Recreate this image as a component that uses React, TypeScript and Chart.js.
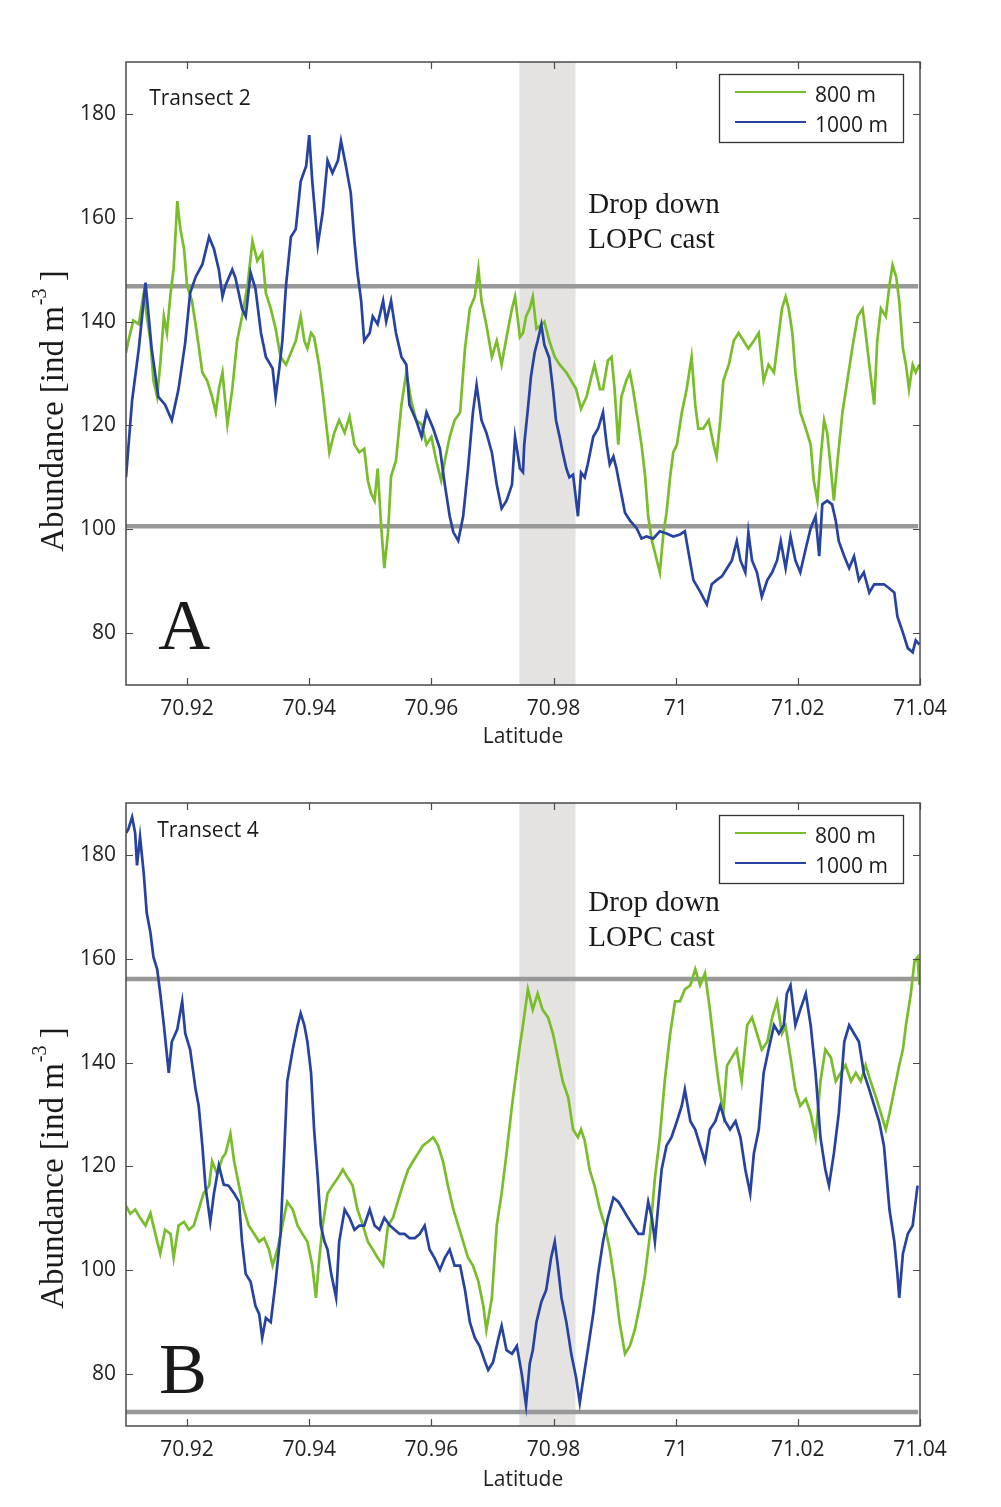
import React, { useEffect, useRef } from 'react';
import { Chart, registerables } from 'chart.js';

Chart.register(...registerables);

// ---------- axes ----------
const latMin = 70.91;
const latMax = 71.04;
const yMin = 70;
const yMax = 190;
const xTickValues = [70.92, 70.94, 70.96, 70.98, 71.0, 71.02, 71.04];
const xTickLabels = ['70.92', '70.94', '70.96', '70.98', '71', '71.02', '71.04'];
const yTickValues = [80, 100, 120, 140, 160, 180];
const yTickLabels = ['80', '100', '120', '140', '160', '180'];
const seriesNames = ['800 m', '1000 m'];
const xTitle = 'Latitude';

// ---------- reference marks ----------
const castBand = [70.9744, 70.9836];
const grayLineEnd = 71.0397;
const aLimits = [100.6, 146.8];
const bLimits = [72.7, 156.1];

// ---------- Transect 2 (panel A) ----------
const a800: [number, number][] = [
  [70.9100,134],[70.9104,136.3],[70.9112,140.2],[70.9121,139.5],[70.9129,145.5],[70.9134,141],[70.9140,136.3],[70.9145,128.6],[70.9151,125.5],[70.9156,131.7],
  [70.9162,141],[70.9167,137.8],[70.9173,145.5],[70.9178,150.2],[70.9184,163.2],[70.9189,157.8],[70.9195,154],[70.9200,147],[70.9208,144],[70.9216,137.8],
  [70.9225,130.2],[70.9233,128.6],[70.9241,125.5],[70.9247,122.5],[70.9252,127],[70.9258,130.2],[70.9266,120.2],[70.9274,127],[70.9282,136.3],[70.9290,141],
  [70.9299,147],[70.9307,155.5],[70.9315,151.7],[70.9323,153.2],[70.9329,145.5],[70.9337,142.5],[70.9345,138.6],[70.9353,133.2],[70.9362,131.7],[70.9370,134],
  [70.9378,136.3],[70.9386,141],[70.9392,136.3],[70.9397,134.8],[70.9403,137.8],[70.9408,137],[70.9416,131.7],[70.9422,126.3],[70.9427,121],[70.9433,114.8],
  [70.9441,118.6],[70.9449,121],[70.9458,118.6],[70.9466,121.7],[70.9474,116.3],[70.9482,114.8],[70.9490,115.5],[70.9496,109.4],[70.9501,107],[70.9507,105.5],
  [70.9512,111.7],[70.9518,100.2],[70.9523,92.5],[70.9529,99.4],[70.9534,110.2],[70.9542,113.2],[70.9551,124],[70.9559,130.2],[70.9567,124.8],[70.9575,121],
  [70.9584,120.2],[70.9592,116.3],[70.9600,117.8],[70.9608,113.2],[70.9616,109.4],[70.9622,113.2],[70.9630,117.8],[70.9638,121],[70.9647,122.5],[70.9655,134.8],
  [70.9663,142.5],[70.9671,144.8],[70.9677,150.2],[70.9682,144],[70.9690,139.4],[70.9699,133.2],[70.9707,136.3],[70.9715,131.7],[70.9723,137],[70.9732,142.5],
  [70.9737,144.8],[70.9745,137],[70.9750,137.8],[70.9755,141],[70.9761,142.5],[70.9766,144.8],[70.9772,138.6],[70.9780,139.4],[70.9785,140],[70.9793,136.3],
  [70.9802,133.2],[70.9810,131.7],[70.9821,130.2],[70.9829,128.6],[70.9837,127],[70.9845,123.2],[70.9854,125.5],[70.9862,129.4],[70.9867,131.7],[70.9876,127],
  [70.9881,127],[70.9889,132.5],[70.9895,133.2],[70.9900,127],[70.9906,116.3],[70.9911,125.5],[70.9919,128.6],[70.9925,130.2],[70.9930,127],[70.9936,122.5],
  [70.9944,116.3],[70.9950,110.2],[70.9955,102.5],[70.9961,97.8],[70.9966,95.5],[70.9974,91.7],[70.9980,99.4],[70.9985,103.2],[70.9991,110.2],[70.9996,114.8],
  [71.0002,116.3],[71.0010,122.5],[71.0018,127],[71.0026,133.2],[71.0032,124],[71.0037,119.4],[71.0045,119.4],[71.0054,121],[71.0062,116.3],[71.0067,114],
  [71.0073,121],[71.0078,128.6],[71.0087,131.7],[71.0095,136.3],[71.0103,137.8],[71.0111,136.3],[71.0119,134.8],[71.0128,136.3],[71.0136,137.8],[71.0144,128.6],
  [71.0152,131.7],[71.0161,130.2],[71.0169,137.8],[71.0174,142.5],[71.0180,144.8],[71.0185,142.5],[71.0191,137.8],[71.0196,130.2],[71.0204,122.5],[71.0213,119.4],
  [71.0221,116.3],[71.0226,109.4],[71.0232,105.5],[71.0237,113.2],[71.0243,121],[71.0248,118.6],[71.0254,111.7],[71.0259,105.5],[71.0265,113.2],[71.0273,122.5],
  [71.0281,128.6],[71.0289,134.8],[71.0298,141],[71.0306,142.5],[71.0311,137.8],[71.0317,131.7],[71.0325,124],[71.0330,136.3],[71.0336,142.5],[71.0344,141],
  [71.0350,147],[71.0355,150.9],[71.0361,148.6],[71.0366,144],[71.0372,134.8],[71.0377,131.7],[71.0382,127],[71.0388,131.7],[71.0393,130.2],[71.0399,131.7],
];

const a1000: [number, number][] = [
  [70.9100,110],[70.9110,124.8],[70.9121,134.8],[70.9132,147.5],[70.9142,134.8],[70.9153,125.5],[70.9164,124],[70.9175,121],[70.9186,127],[70.9197,136],
  [70.9205,145.5],[70.9214,148.6],[70.9225,151],[70.9236,156.3],[70.9244,154],[70.9252,150],[70.9258,144.8],[70.9263,147],[70.9274,150],[70.9279,148.5],
  [70.9290,142.5],[70.9296,141],[70.9304,149.4],[70.9312,146.3],[70.9321,137.8],[70.9329,133.2],[70.9340,131],[70.9345,125.5],[70.9351,131],[70.9356,136.3],
  [70.9362,147],[70.9370,156.3],[70.9378,157.8],[70.9386,167],[70.9395,170],[70.9400,175.9],[70.9405,167],[70.9414,154.8],[70.9422,161],[70.9430,171],
  [70.9438,168.6],[70.9447,171],[70.9452,174.8],[70.9460,170],[70.9468,164.8],[70.9474,155.5],[70.9479,149.4],[70.9485,144],[70.9490,136.3],[70.9499,137.8],
  [70.9504,141],[70.9512,139.5],[70.9521,144],[70.9526,140],[70.9534,144],[70.9542,137.8],[70.9551,133.2],[70.9559,131.7],[70.9564,124],[70.9575,121],
  [70.9584,117.8],[70.9592,122.5],[70.9603,119.4],[70.9614,115.5],[70.9622,108.6],[70.9630,102.5],[70.9636,99.4],[70.9644,97.8],[70.9652,102.5],[70.9660,111.7],
  [70.9668,122.5],[70.9674,127.8],[70.9682,121],[70.9690,118.6],[70.9699,114.8],[70.9707,108.6],[70.9715,104],[70.9723,105.5],[70.9732,108.6],[70.9737,117.8],
  [70.9745,111.7],[70.9750,111],[70.9752,116.3],[70.9758,123.2],[70.9763,129.4],[70.9769,134],[70.9774,136.3],[70.9780,139.4],[70.9785,135.5],[70.9793,133],
  [70.9799,127],[70.9804,121],[70.9810,117.8],[70.9815,114.8],[70.9821,111.7],[70.9826,110],[70.9832,110.5],[70.9837,105.5],[70.9840,102.5],[70.9845,110.9],
  [70.9851,110],[70.9856,112.5],[70.9865,117.8],[70.9873,119.4],[70.9881,122.5],[70.9887,116.3],[70.9892,112.5],[70.9898,114],[70.9903,111.7],[70.9908,108.6],
  [70.9917,103.2],[70.9925,101.7],[70.9936,100.2],[70.9944,98.2],[70.9952,98.6],[70.9963,98.2],[70.9974,99.6],[70.9985,99.2],[70.9996,98.6],[71.0007,99],
  [71.0015,99.6],[71.0021,95.5],[71.0029,90.2],[71.0040,88],[71.0051,85.5],[71.0059,89.4],[71.0067,90.2],[71.0076,91],[71.0084,92.5],[71.0092,94],
  [71.0100,97.7],[71.0106,94],[71.0114,91.7],[71.0119,99.4],[71.0125,94],[71.0133,91.7],[71.0141,87],[71.0150,90.2],[71.0158,91.7],[71.0166,94],
  [71.0172,97.7],[71.0180,92.5],[71.0188,98.6],[71.0196,94],[71.0204,91.7],[71.0213,96.3],[71.0221,100.2],[71.0229,102.5],[71.0235,94.8],[71.0240,104.8],
  [71.0248,105.5],[71.0256,104.8],[71.0262,101.7],[71.0267,97.7],[71.0276,94.8],[71.0284,92.5],[71.0292,94.8],[71.0300,90.2],[71.0308,91.7],[71.0317,87.8],
  [71.0325,89.4],[71.0333,89.4],[71.0341,89.4],[71.0350,88.6],[71.0358,87.8],[71.0363,83.2],[71.0372,80.1],[71.0380,77.1],[71.0388,76.3],[71.0393,78.6],
  [71.0399,77.8],
];

// ---------- Transect 4 (panel B) ----------
const b800: [number, number][] = [
  [70.9100,112.4],[70.9107,110.9],[70.9115,111.7],[70.9123,110.1],[70.9132,108.6],[70.9140,111],[70.9148,107],[70.9156,103.2],[70.9164,107.8],[70.9173,107],
  [70.9178,102.4],[70.9186,108.6],[70.9195,109.3],[70.9203,107.8],[70.9211,108.6],[70.9219,111.7],[70.9227,114.8],[70.9236,116.3],[70.9241,121],[70.9249,118.6],
  [70.9258,121.7],[70.9263,122.5],[70.9271,126.3],[70.9277,121],[70.9285,116.3],[70.9293,111.7],[70.9301,108.6],[70.9310,107],[70.9318,105.5],[70.9326,106.2],
  [70.9334,104],[70.9340,100.9],[70.9348,104],[70.9356,108.6],[70.9364,113.2],[70.9373,111.7],[70.9381,108.6],[70.9389,107],[70.9397,105.5],[70.9405,100.9],
  [70.9411,94.7],[70.9416,101.7],[70.9422,108.6],[70.9430,114.8],[70.9438,116.3],[70.9447,117.8],[70.9455,119.4],[70.9463,117.8],[70.9471,116.3],[70.9479,111.7],
  [70.9488,108.6],[70.9496,105.5],[70.9504,104],[70.9512,102.4],[70.9521,100.9],[70.9529,108.6],[70.9537,110.1],[70.9545,113.2],[70.9553,116.3],[70.9562,119.4],
  [70.9570,121],[70.9578,122.5],[70.9586,124],[70.9595,124.8],[70.9603,125.6],[70.9611,124],[70.9619,121],[70.9627,116.3],[70.9636,111.7],[70.9644,108.6],
  [70.9652,105.5],[70.9660,102.4],[70.9668,100.9],[70.9677,97.8],[70.9685,93.1],[70.9690,88.5],[70.9699,94.7],[70.9707,108.6],[70.9715,114.8],[70.9723,122.5],
  [70.9732,131.7],[70.9739,138],[70.9744,142.5],[70.9750,147.2],[70.9758,154.1],[70.9766,150.2],[70.9774,153.3],[70.9782,150.2],[70.9791,148.7],[70.9799,145.6],
  [70.9807,141],[70.9815,136.4],[70.9824,133.3],[70.9832,127.1],[70.9840,125.6],[70.9845,127.1],[70.9851,125],[70.9859,119.4],[70.9867,116.3],[70.9876,111.7],
  [70.9884,108.6],[70.9892,104],[70.9900,97.8],[70.9908,90],[70.9917,83.9],[70.9925,85.4],[70.9933,88.5],[70.9941,93.1],[70.9950,99.3],[70.9958,107],
  [70.9966,117.8],[70.9974,125.6],[70.9982,136.4],[70.9991,145.6],[70.9999,151.8],[71.0007,151.8],[71.0015,154.1],[71.0024,154.9],[71.0032,158],[71.0040,154.9],
  [71.0048,157.2],[71.0056,150.2],[71.0065,141],[71.0070,136.4],[71.0078,130.2],[71.0084,139.4],[71.0092,141],[71.0100,142.5],[71.0108,136.4],[71.0117,147.2],
  [71.0125,148.7],[71.0133,145.6],[71.0141,142.5],[71.0150,144],[71.0158,148.7],[71.0166,151.8],[71.0174,145.6],[71.0180,147],[71.0188,141],[71.0196,134.8],
  [71.0204,131.7],[71.0213,133],[71.0221,130.2],[71.0229,125.6],[71.0237,136.4],[71.0245,142.5],[71.0254,141],[71.0262,136.4],[71.0270,138],[71.0278,139.5],
  [71.0287,136.4],[71.0295,138],[71.0303,136.4],[71.0311,139.5],[71.0319,136.4],[71.0328,133.3],[71.0336,130.2],[71.0344,127.1],[71.0350,130.2],[71.0358,134.8],
  [71.0366,139.5],[71.0372,142.5],[71.0377,147.2],[71.0385,153.3],[71.0391,159.5],[71.0396,160.3],[71.0399,155],
];

const b1000: [number, number][] = [
  [70.9100,184.2],[70.9104,185],[70.9110,187.3],[70.9115,184.2],[70.9118,178],[70.9123,183.5],[70.9129,176.5],[70.9134,168.8],[70.9140,165],[70.9145,160.3],
  [70.9151,158],[70.9156,153.4],[70.9162,147.2],[70.9170,138],[70.9175,144],[70.9184,146.4],[70.9192,151.8],[70.9197,145.6],[70.9205,142.5],[70.9214,134.8],
  [70.9219,131.7],[70.9225,124],[70.9230,116.3],[70.9238,109.3],[70.9244,114.8],[70.9252,120.2],[70.9260,116.5],[70.9268,116.3],[70.9277,114.8],[70.9285,113.2],
  [70.9290,105.5],[70.9296,99.3],[70.9304,97.8],[70.9312,93.1],[70.9318,91.6],[70.9323,87],[70.9329,90.8],[70.9337,90],[70.9345,97.8],[70.9353,107],
  [70.9359,122.5],[70.9364,136.4],[70.9373,142.5],[70.9381,147.2],[70.9386,149.5],[70.9392,147.2],[70.9397,144],[70.9403,138],[70.9408,127.1],[70.9414,117.8],
  [70.9419,108.6],[70.9425,105.5],[70.9430,104],[70.9436,99.3],[70.9444,94.7],[70.9449,105.5],[70.9458,111.7],[70.9466,110.1],[70.9474,107.8],[70.9482,108.6],
  [70.9490,108.6],[70.9499,111.7],[70.9507,108.6],[70.9515,107.8],[70.9523,110.1],[70.9532,108.6],[70.9540,107.8],[70.9548,107],[70.9556,107],[70.9564,106.2],
  [70.9573,106.2],[70.9581,107],[70.9589,108.6],[70.9597,104],[70.9605,102.4],[70.9614,100.1],[70.9622,102.4],[70.9630,104],[70.9638,100.9],[70.9647,100.9],
  [70.9655,96.2],[70.9663,90],[70.9671,87],[70.9679,85.4],[70.9688,82.3],[70.9693,80.8],[70.9701,82.3],[70.9710,87],[70.9715,89.3],[70.9723,84.6],
  [70.9732,83.9],[70.9740,85.4],[70.9748,80],[70.9755,74],[70.9761,82],[70.9766,84.6],[70.9772,90],[70.9780,93.9],[70.9788,96.2],[70.9796,102.4],
  [70.9802,105.5],[70.9807,100.9],[70.9813,94.7],[70.9821,90],[70.9829,83.9],[70.9837,79.3],[70.9843,74.5],[70.9848,78.5],[70.9856,84.6],[70.9865,91.6],
  [70.9873,99.3],[70.9881,105.5],[70.9889,110.1],[70.9898,114],[70.9906,113.2],[70.9914,111.7],[70.9922,110.1],[70.9930,108.6],[70.9939,107],[70.9947,107],
  [70.9955,113.2],[70.9961,110.1],[70.9966,105.5],[70.9972,113.2],[70.9977,119.4],[70.9985,124],[70.9993,125.6],[71.0002,128.7],[71.0010,131.7],[71.0015,134.8],
  [71.0024,128.7],[71.0032,127.1],[71.0040,124],[71.0048,121],[71.0056,127.1],[71.0065,128.7],[71.0073,131.7],[71.0081,128.7],[71.0089,127.1],[71.0098,128.7],
  [71.0106,125.6],[71.0114,119.4],[71.0122,114.8],[71.0128,122.5],[71.0136,127.1],[71.0144,138],[71.0152,142.5],[71.0161,147.2],[71.0169,145.6],[71.0177,147.2],
  [71.0182,153.3],[71.0188,154.9],[71.0196,147.2],[71.0204,150.2],[71.0213,153.3],[71.0221,147.2],[71.0229,138],[71.0237,125.6],[71.0245,119.4],[71.0251,116.3],
  [71.0259,122.5],[71.0267,130.2],[71.0276,144],[71.0284,147.2],[71.0292,145.6],[71.0300,144],[71.0308,138],[71.0317,134.8],[71.0325,131.7],[71.0333,128.7],
  [71.0341,124],[71.0350,111.7],[71.0358,105.5],[71.0363,99.3],[71.0366,94.7],[71.0372,103.2],[71.0380,107],[71.0388,108.6],[71.0396,116.3],
];

// ---------- styles ----------
const GREEN = '#79bd2b';
const BLUE = '#2643a0';
const GRAY = '#989898';
const BAND = '#e5e3e1';
const INK = '#1a1a1a';
const AXIS = '#4a4a4a';
const SANS = '"Open Sans", sans-serif';
const SERIF = '"Liberation Serif", "Times New Roman", serif';

type PanelCfg = {
  top: number;
  height: number;
  padTop: number;
  xAxisHeight: number;
  xTitlePad: number;
  s800: [number, number][];
  s1000: [number, number][];
  limits: number[];
  title: string;
  titlePos: [number, number];
  letter: string;
  letterPos: [number, number];
  castText: [number, number, number];
  yTitleCenter: number;
};

const panels: PanelCfg[] = [
  {
    top: 0, height: 750, padTop: 62, xAxisHeight: 65, xTitlePad: 0.6,
    s800: a800, s1000: a1000, limits: aLimits,
    title: 'Transect 2', titlePos: [70.9138, 181.8],
    letter: 'A', letterPos: [70.9153, 77],
    castText: [70.9857, 161, 154.2],
    yTitleCenter: 411,
  },
  {
    top: 745, height: 762, padTop: 58, xAxisHeight: 81, xTitlePad: 14.6,
    s800: b800, s1000: b1000, limits: bLimits,
    title: 'Transect 4', titlePos: [70.9151, 183.5],
    letter: 'B', letterPos: [70.9154, 76.4],
    castText: [70.9857, 169.2, 162.5],
    yTitleCenter: 423,
  },
];

function drawYTitle(ctx: CanvasRenderingContext2D, bx: number, cy: number) {
  ctx.save();
  ctx.translate(bx, cy);
  ctx.rotate(-Math.PI / 2);
  const main = `33px ${SERIF}`;
  const sup = `20px ${SERIF}`;
  const t1 = 'Abundance [ind m';
  const t2 = '-3';
  const t3 = ' ]';
  ctx.font = main;
  const w1 = ctx.measureText(t1).width;
  const w3 = ctx.measureText(t3).width;
  ctx.font = sup;
  const w2 = ctx.measureText(t2).width;
  const x0 = -(w1 + w2 + w3) / 2;
  ctx.fillStyle = INK;
  ctx.textAlign = 'left';
  ctx.textBaseline = 'alphabetic';
  ctx.font = main;
  ctx.fillText(t1, x0, 0);
  ctx.font = sup;
  ctx.fillText(t2, x0 + w1 + 1, -17);
  ctx.font = main;
  ctx.fillText(t3, x0 + w1 + w2, 0);
  ctx.restore();
}

function makeDecor(p: PanelCfg) {
  return {
    id: 'decor',
    beforeDatasetsDraw(chart: any) {
      const { ctx, chartArea: ca, scales } = chart;
      const x = scales.x;
      const x0 = x.getPixelForValue(castBand[0]);
      const x1 = x.getPixelForValue(castBand[1]);
      ctx.save();
      ctx.fillStyle = BAND;
      ctx.fillRect(x0, ca.top, x1 - x0, ca.bottom - ca.top);
      ctx.restore();
    },
    afterDatasetsDraw(chart: any) {
      const { ctx, chartArea: ca, scales } = chart;
      const x = scales.x;
      const y = scales.y;
      ctx.save();
      // box
      ctx.strokeStyle = AXIS;
      ctx.lineWidth = 1.5;
      ctx.strokeRect(ca.left, ca.top, ca.right - ca.left, ca.bottom - ca.top);
      // inward ticks
      const tl = 7;
      ctx.beginPath();
      xTickValues.forEach((v) => {
        const px = Math.round(x.getPixelForValue(v)) + 0.5;
        ctx.moveTo(px, ca.bottom);
        ctx.lineTo(px, ca.bottom - tl);
        ctx.moveTo(px, ca.top);
        ctx.lineTo(px, ca.top + tl);
      });
      yTickValues.forEach((v) => {
        const py = Math.round(y.getPixelForValue(v)) + 0.5;
        ctx.moveTo(ca.left, py);
        ctx.lineTo(ca.left + tl, py);
        ctx.moveTo(ca.right, py);
        ctx.lineTo(ca.right - tl, py);
      });
      ctx.lineWidth = 1.2;
      ctx.stroke();

      // panel title
      ctx.fillStyle = INK;
      ctx.textAlign = 'left';
      ctx.textBaseline = 'alphabetic';
      ctx.font = `21px ${SANS}`;
      ctx.fillText(p.title, x.getPixelForValue(p.titlePos[0]), y.getPixelForValue(p.titlePos[1]));

      // cast annotation
      ctx.font = `29px ${SERIF}`;
      const cx = x.getPixelForValue(p.castText[0]);
      ctx.fillText('Drop down', cx, y.getPixelForValue(p.castText[1]));
      ctx.fillText('LOPC cast', cx, y.getPixelForValue(p.castText[2]));

      // panel letter
      ctx.font = `72px ${SERIF}`;
      ctx.fillText(p.letter, x.getPixelForValue(p.letterPos[0]), y.getPixelForValue(p.letterPos[1]));

      // legend
      const lx = ca.right - 201;
      const ly = ca.top + 12;
      ctx.fillStyle = '#ffffff';
      ctx.fillRect(lx, ly, 184, 68);
      ctx.strokeStyle = '#333333';
      ctx.lineWidth = 1.3;
      ctx.strokeRect(lx + 0.5, ly + 0.5, 184, 68);
      const colors = [GREEN, BLUE];
      const rows = [18, 48];
      seriesNames.forEach((name, i) => {
        ctx.strokeStyle = colors[i];
        ctx.lineWidth = 2;
        ctx.beginPath();
        ctx.moveTo(lx + 16, ly + rows[i]);
        ctx.lineTo(lx + 87, ly + rows[i]);
        ctx.stroke();
        ctx.fillStyle = INK;
        ctx.font = `21px ${SANS}`;
        ctx.fillText(name, lx + 96, ly + rows[i] + 9.5);
      });
      ctx.restore();

      drawYTitle(ctx, 63, p.yTitleCenter);
    },
  };
}

function Panel({ p }: { p: PanelCfg }) {
  const ref = useRef<HTMLCanvasElement>(null);
  useEffect(() => {
    if (!ref.current) return;
    const toXY = (arr: [number, number][]) => arr.map(([lx, v]) => ({ x: lx, y: v }));
    const chart = new Chart(ref.current, {
      type: 'line',
      data: {
        datasets: [
          {
            label: seriesNames[1],
            data: toXY(p.s1000),
            borderColor: BLUE,
            borderWidth: 2.7,
            pointRadius: 0,
            tension: 0,
            order: 0,
          },
          {
            label: seriesNames[0],
            data: toXY(p.s800),
            borderColor: GREEN,
            borderWidth: 2.7,
            pointRadius: 0,
            tension: 0,
            order: 1,
          },
          ...p.limits.map((v) => ({
            label: 'limit',
            data: [{ x: latMin, y: v }, { x: grayLineEnd, y: v }],
            borderColor: GRAY,
            borderWidth: 4.5,
            pointRadius: 0,
            order: 2,
          })),
        ],
      },
      options: {
        animation: false,
        responsive: false,
        events: [],
        layout: { padding: { left: 0, right: 81, top: p.padTop, bottom: 0 } },
        plugins: { legend: { display: false }, tooltip: { enabled: false } },
        scales: {
          x: {
            type: 'linear',
            min: latMin,
            max: latMax,
            afterBuildTicks: (s: any) => { s.ticks = xTickValues.map((v) => ({ value: v })); },
            afterFit: (s: any) => { s.height = p.xAxisHeight; },
            grid: { display: false, drawTicks: false },
            border: { display: false },
            ticks: {
              callback: (_v: any, i: number) => xTickLabels[i],
              padding: 11,
              color: '#222',
              font: { size: 21, family: SANS },
              maxRotation: 0,
              autoSkip: false,
            },
            title: {
              display: true,
              text: xTitle,
              color: '#222',
              font: { size: 21, family: SANS },
              padding: { top: 0, bottom: p.xTitlePad },
            },
          },
          y: {
            type: 'linear',
            min: yMin,
            max: yMax,
            afterBuildTicks: (s: any) => { s.ticks = yTickValues.map((v) => ({ value: v })); },
            afterFit: (s: any) => { s.width = 126; },
            grid: { display: false, drawTicks: false },
            border: { display: false },
            ticks: {
              callback: (_v: any, i: number) => yTickLabels[i],
              padding: 10,
              color: '#222',
              font: { size: 21, family: SANS },
              autoSkip: false,
            },
          },
        },
      },
      plugins: [makeDecor(p)],
    } as any);
    return () => chart.destroy();
  }, [p]);
  return (
    <canvas
      ref={ref}
      width={1001}
      height={p.height}
      style={{ position: 'absolute', left: 0, top: p.top, width: 1001, height: p.height }}
    />
  );
}

export default function App() {
  return (
    <div style={{ position: 'absolute', left: 0, top: 0, width: 1001, height: 1507, background: '#ffffff', overflow: 'hidden' }}>
      {panels.map((p, i) => (
        <Panel key={i} p={p} />
      ))}
    </div>
  );
}
